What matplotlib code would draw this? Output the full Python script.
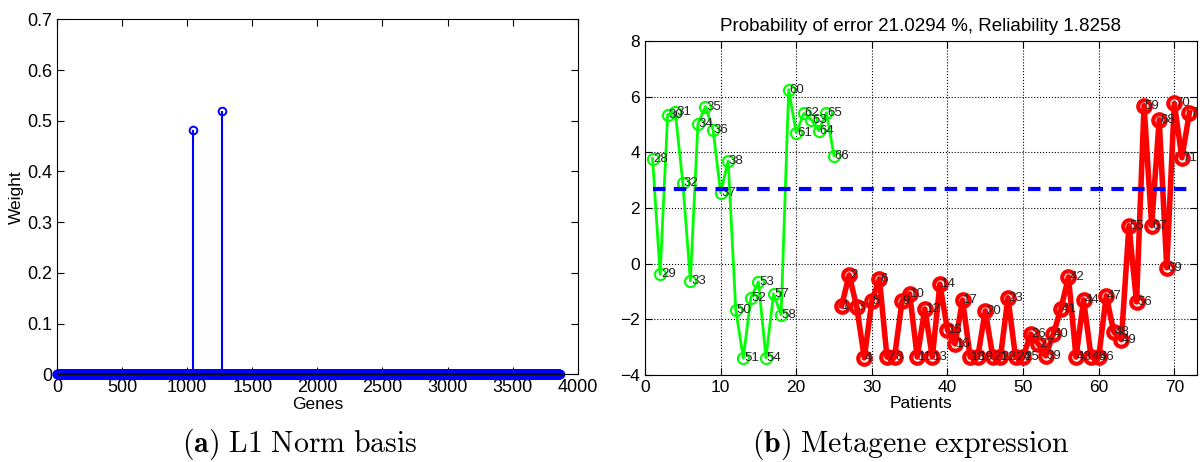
import numpy as np
import matplotlib.pyplot as plt

plt.rcParams['font.family'] = ['Liberation Sans', 'DejaVu Sans']
plt.rcParams['mathtext.fontset'] = 'cm'

# ---- left panel: L1 norm basis (sparse gene weights) ----
n_genes = 3860
nonzero_genes = [1044, 1267]
nonzero_weights = [0.482, 0.520]

# ---- right panel: metagene expression per patient ----
green_labels = [28, 29, 30, 31, 32, 33, 34, 35, 36, 37, 38, 50, 51, 52, 53,
                54, 57, 58, 60, 61, 62, 63, 64, 65, 66]
green_values = [3.78, -0.38, 5.36, 5.45, 2.92, -0.61, 5.03, 5.65, 4.82, 2.55,
                3.70, -1.65, -3.38, -1.22, -0.65, -3.38, -1.08, -1.83, 6.26,
                4.71, 5.40, 5.18, 4.78, 5.43, 3.88]
red_labels = list(range(1, 28)) + list(range(39, 50)) + [55, 56, 59, 67, 68,
                                                         69, 70, 71, 72]
red_values = [-1.51, -0.40, -1.55, -3.38, -1.33, -0.54, -3.35, -3.35, -1.33,
              -1.08, -3.35, -1.62, -3.35, -0.73, -2.38, -2.88, -1.30, -3.35,
              -3.35, -1.69, -3.35, -3.35, -1.22, -3.35, -3.35, -2.52, -2.88,
              -3.31, -2.52, -1.62, -0.47, -3.35, -1.30, -3.35, -3.35, -1.15,
              -2.45, -2.73, 1.37, -1.37, 5.68, 1.37, 5.18, -0.14, 5.76, 3.81,
              5.43]
threshold = 2.7
p_error = 21.0294
reliability = 1.8258

fig = plt.figure(figsize=(12, 4.62), dpi=100)

# left
ax1 = fig.add_axes([0.0475, 0.19, 0.434, 0.768])
genes = np.arange(1, n_genes + 1)
weights = np.zeros(n_genes)
weights[np.array(nonzero_genes) - 1] = nonzero_weights
markerline, stemlines, baseline = ax1.stem(genes, weights, linefmt='b-',
                                           markerfmt='o', basefmt='k-')
markerline.set_markerfacecolor('none')
markerline.set_markeredgecolor('blue')
markerline.set_markersize(5.5)
markerline.set_markeredgewidth(1.4)
markerline.set_clip_on(False)
stemlines.set_linewidth(1.5)
baseline.set_linewidth(1.2)
baseline.set_zorder(3)
ax1.set_xlim(0, 4000)
ax1.set_ylim(0, 0.7)
ax1.set_xticks(np.arange(0, 4001, 500))
ax1.set_yticks(np.arange(0, 0.71, 0.1))
ax1.set_yticklabels(['0', '0.1', '0.2', '0.3', '0.4', '0.5', '0.6', '0.7'])
ax1.tick_params(direction='in', top=True, right=True, labelsize=13, length=5)
ax1.set_xlabel('Genes', fontsize=12.5, labelpad=1)
ax1.set_ylabel('Weight', fontsize=12.5, labelpad=2)

# right
ax2 = fig.add_axes([0.5375, 0.188, 0.46, 0.723])
n_green = len(green_values)
x_green = np.arange(1, n_green + 1)
x_red = np.arange(n_green + 1, n_green + len(red_values) + 1)
ax2.plot(x_green, green_values, '-o', color=(0, 1, 0), lw=2,
         mfc='none', ms=8, mew=1.5)
ax2.plot(x_red, red_values, '-o', color=(1, 0, 0), lw=4,
         mfc='none', ms=9, mew=3)
for x, y, lab in zip(x_green, green_values, green_labels):
    ax2.text(x + 0.1, y, str(lab), fontsize=9.5, color='#222222', va='center')
for x, y, lab in zip(x_red, red_values, red_labels):
    ax2.text(x + 0.1, y, str(lab), fontsize=9.5, color='#222222', va='center',
             clip_on=True)
n_all = n_green + len(red_values)
ax2.plot([1, n_all], [threshold, threshold], '--', color=(0, 0, 1), lw=3,
         dashes=(3, 2))
ax2.set_xlim(0, n_all + 1)
ax2.set_ylim(-4, 8)
ax2.set_xticks(np.arange(0, 71, 10))
ax2.set_yticks(np.arange(-4, 9, 2))
ax2.grid(True, color='black', linestyle=':', linewidth=0.8)
ax2.tick_params(direction='in', top=True, right=True, labelsize=12.5, length=5)
ax2.set_xlabel('Patients', fontsize=12.5, labelpad=1)
ax2.set_title('Probability of error %.4f %%, Reliability %.4f'
              % (p_error, reliability), fontsize=13.5, pad=7)

fig.text(0.25, 0.022, r'$\mathbf{(a)}\ \mathrm{L1\ Norm\ basis}$',
         fontsize=21.5, ha='center')
fig.text(0.759, 0.022, r'$\mathbf{(b)}\ \mathrm{Metagene\ expression}$',
         fontsize=21.5, ha='center')

fig.savefig('out.png', dpi=100)
